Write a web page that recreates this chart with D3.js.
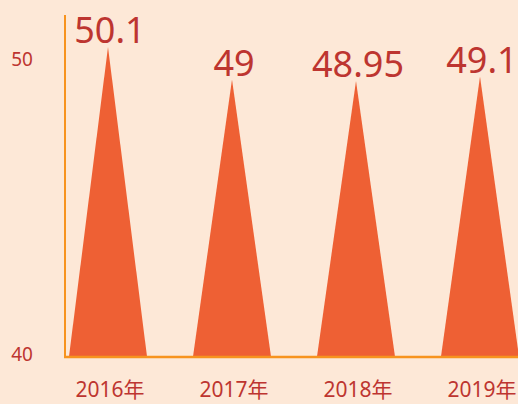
<!DOCTYPE html>
<meta charset="utf-8">
<script src="https://d3js.org/d3.v7.min.js"></script>
<style>
  body { margin: 0; background: #fde8d7; }
  text { font-family: "Noto Sans", "Noto Sans CJK SC", sans-serif; }
</style>
<div id="my_dataviz"></div>
<script>

  // data
  var years = ["2016年", "2017年", "2018年", "2019年"];
  var values = [50.1, 49, 48.95, 49.1];
  var valueLabels = ["50.1", "49", "48.95", "49.1"];
  var yTicks = [40, 50];

  var width = 518, height = 404;

  var svg = d3.select("#my_dataviz")
    .append("svg")
      .attr("width", width)
      .attr("height", height);

  svg.append("rect")
    .attr("width", width)
    .attr("height", height)
    .attr("fill", "#fde8d7");

  // scales
  var x = d3.scaleBand()
    .domain(years)
    .range([46, 46 + 124 * 4])
    .paddingInner(0.37)
    .paddingOuter(0.185);

  var y = d3.scaleLinear()
    .domain([40, 50])
    .range([357, 62]);

  // triangles
  var tip = 12; // the pictorial tip pokes a little above the value
  svg.selectAll(".tri")
    .data(values)
    .enter()
    .append("path")
      .attr("class", "tri")
      .attr("fill", "#ee6034")
      .attr("d", function(d, i) {
        var x0 = x(years[i]), x1 = x0 + x.bandwidth(), xm = x0 + x.bandwidth() / 2;
        return "M" + x0 + "," + y(40) + "L" + xm + "," + (y(d) - tip) + "L" + x1 + "," + y(40) + "Z";
      });

  // value labels
  svg.selectAll(".val")
    .data(values)
    .enter()
    .append("text")
      .attr("class", "val")
      .attr("x", function(d, i) { return x(years[i]) + x.bandwidth() / 2 + 2; })
      .attr("y", function(d) { return y(d) - 16; })
      .attr("text-anchor", "middle")
      .style("font-size", "36px")
      .style("fill", "#bd3530")
      .text(function(d, i) { return valueLabels[i]; });

  // axes lines
  svg.append("line")
    .attr("x1", 65).attr("x2", 65)
    .attr("y1", 15).attr("y2", y(40))
    .attr("stroke", "#f7931e")
    .attr("stroke-width", 2);

  svg.append("line")
    .attr("x1", 64).attr("x2", width)
    .attr("y1", y(40)).attr("y2", y(40))
    .attr("stroke", "#f7931e")
    .attr("stroke-width", 2.5);

  // y tick labels
  svg.selectAll(".ytick")
    .data(yTicks)
    .enter()
    .append("text")
      .attr("class", "ytick")
      .attr("x", 33)
      .attr("y", function(d) { return y(d) - 3; })
      .attr("dy", "0.35em")
      .attr("text-anchor", "end")
      .style("font-size", "19px")
      .style("fill", "#bd3530")
      .text(function(d) { return d; });

  // x labels
  svg.selectAll(".xtick")
    .data(years)
    .enter()
    .append("text")
      .attr("class", "xtick")
      .attr("x", function(d) { return x(d) + x.bandwidth() / 2 + 2; })
      .attr("y", 397)
      .attr("text-anchor", "middle")
      .style("font-size", "21px")
      .style("fill", "#bd3530")
      .text(function(d) { return d; });

</script>
